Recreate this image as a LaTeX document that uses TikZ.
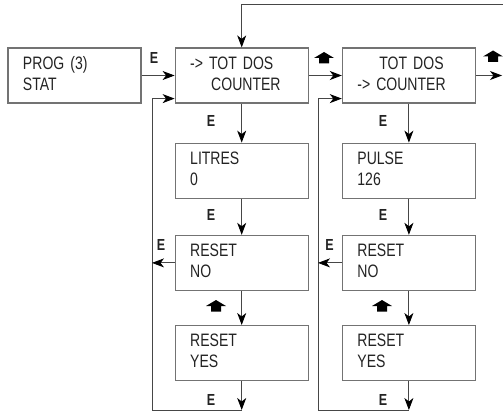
\documentclass[tikz,border=0pt]{standalone}
\usepackage{fontspec}
\setmainfont{Liberation Sans}[FakeStretch=0.78]
\definecolor{framegray}{RGB}{115, 115, 115}
\definecolor{linegray}{RGB}{70, 70, 70}
\definecolor{textgray}{RGB}{35, 35, 35}
\usetikzlibrary{
    arrows.meta,
    positioning,
    calc
}

\begin{document}
\begin{tikzpicture}[x=1pt, y=-1pt,
            dispbox/.style={draw=framegray, line width=1.2pt, minimum height=55pt,
                inner xsep=15pt, text width=103pt, align=left, text=textgray,
                font=\fontsize{18}{21}\selectfont},
            conn/.style={draw=linegray, line width=0.9pt},
            arr/.style={conn, -{Stealth[length=12pt, width=9pt, inset=3.5pt, color=black]}},
            keylabel/.style={text=textgray, font=\bfseries\fontsize{16}{16}\selectfont, inner sep=0pt},
            upkey/.pic={\fill[black] (-10pt,0.5pt) -- (0pt,6.5pt) -- (10pt,0.5pt) -- (5pt,0.5pt)
                -- (5pt,-5pt) -- (-5pt,-5pt) -- (-5pt,0.5pt) -- cycle;}]

            \useasboundingbox (0,0) rectangle (503,412);

            % Displays
            \node[dispbox] (prog) at (74.5,75.5) {PROG (3)\strut\\STAT\strut};
            \node[dispbox, right=33pt of prog] (tot1) {-> TOT DOS\strut\\\hspace*{21pt}COUNTER\strut};
            \node[dispbox, right=33pt of tot1] (tot2) {\hspace*{22pt}TOT DOS\strut\\-> COUNTER\strut};
            \node[dispbox, below=39pt of tot1] (litres) {LITRES\strut\\0\strut};
            \node[dispbox, below=39pt of tot2] (pulse) {PULSE\strut\\126\strut};
            \node[dispbox, below=36pt of litres] (resetnoL) {RESET\strut\\NO\strut};
            \node[dispbox, below=34pt of resetnoL] (resetyesL) {RESET\strut\\YES\strut};
            \node[dispbox, below=36pt of pulse] (resetnoR) {RESET\strut\\NO\strut};
            \node[dispbox, below=34pt of resetnoR] (resetyesR) {RESET\strut\\YES\strut};

            % Loop corners
            \coordinate (loopL) at (152,410);
            \coordinate (loopR) at (318,410);
            \coordinate (topR) at (503,4);
            \coordinate (exitR) at (502,75.5);

            % Top row
            \draw[arr] (prog.east) -- (tot1.west);
            \draw[arr] (tot1.east) -- (tot2.west);
            \draw[arr] (tot2.east) -- (exitR);
            \draw[arr] (topR) -| (tot1.north);

            % Left column
            \draw[arr] (tot1.south) -- (litres.north);
            \draw[arr] (litres.south) -- (resetnoL.north);
            \draw[arr] (resetnoL.south) -- (resetyesL.north);
            \draw[arr] (resetyesL.south) -- (resetyesL.south |- loopL);
            \draw[conn] (resetyesL.south |- loopL) -- (loopL);
            \draw[arr] (loopL) |- ([yshift=5pt]tot1.south west);
            \draw[arr] (resetnoL.west) -- (resetnoL.west -| loopL);

            % Right column
            \draw[arr] (tot2.south) -- (pulse.north);
            \draw[arr] (pulse.south) -- (resetnoR.north);
            \draw[arr] (resetnoR.south) -- (resetyesR.north);
            \draw[arr] (resetyesR.south) -- (resetyesR.south |- loopR);
            \draw[conn] (resetyesR.south |- loopR) -- (loopR);
            \draw[arr] (loopR) |- ([yshift=5pt]tot2.south west);
            \draw[arr] (resetnoR.west) -- (resetnoR.west -| loopR);

            % Key labels
            \node[keylabel] (eProg) at (154,57.5) {E};
            \node[keylabel] (eLitres) at (211,120.5) {E};
            \node[keylabel] (eResetL) at (211,215) {E};
            \node[keylabel] (eBackL) at (161,245) {E};
            \node[keylabel] (eLoopL) at (211,400) {E};
            \node[keylabel] (ePulse) at (383,120.5) {E};
            \node[keylabel] (eResetR) at (383,215) {E};
            \node[keylabel] (eBackR) at (329.5,245) {E};
            \node[keylabel] (eLoopR) at (383,400) {E};
            \pic at (324,58.5) {upkey};
            \pic at (493,57) {upkey};
            \pic at (216,306.5) {upkey};
            \pic at (382,306.5) {upkey};
        \end{tikzpicture}
\end{document}
